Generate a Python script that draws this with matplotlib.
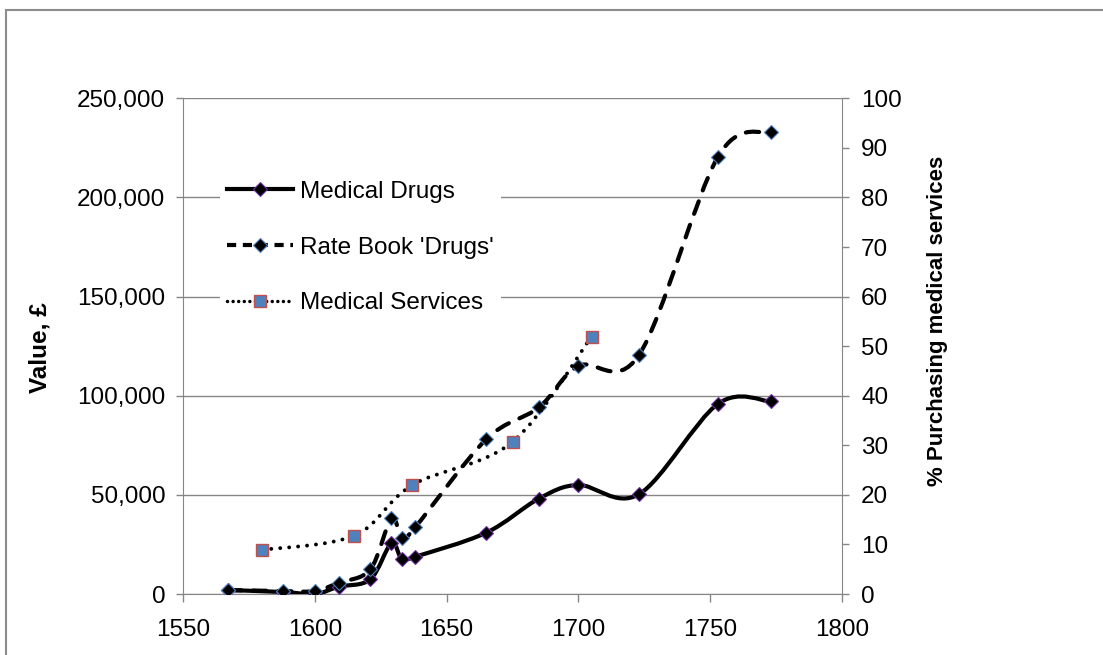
import numpy as np
import matplotlib
matplotlib.use("Agg")
import matplotlib.pyplot as plt
from matplotlib.path import Path
from matplotlib.patches import PathPatch, Rectangle
from matplotlib.lines import Line2D
from matplotlib.ticker import FuncFormatter

plt.rcParams["font.family"] = ["Liberation Sans", "DejaVu Sans"]

# data
years = [1567, 1588, 1600, 1609, 1621, 1629, 1633, 1638, 1665, 1685, 1700, 1723, 1753, 1773]
medical_drugs = [2000, 1000, 0, 3700, 7400, 25600, 17500, 18800, 30900, 48100, 55000, 50300, 95900, 97100]
rate_book_drugs = [2000, 1500, 1500, 5700, 12400, 38200, 28100, 33600, 78000, 94100, 115000, 120500, 220500, 233100]
service_years = [1580, 1615, 1637, 1675, 1705]
medical_services = [8.9, 11.8, 22.0, 30.7, 51.9]

GREY = "#868686"


def smooth_path(x, y):
    """Excel style smoothed line as a cubic bezier path through the points."""
    p = np.column_stack([x, y]).astype(float)
    n = len(p)
    verts = [p[0]]
    codes = [Path.MOVETO]
    for i in range(n - 1):
        prev = p[i - 1] if i > 0 else p[i]
        nxt = p[i + 2] if i + 2 < n else p[i + 1]
        c1 = p[i] + (p[i + 1] - prev) / 6
        c2 = p[i + 1] - (nxt - p[i]) / 6
        verts += [c1, c2, p[i + 1]]
        codes += [Path.CURVE4] * 3
    return Path(verts, codes)


fig = plt.figure(figsize=(11.03, 6.55), dpi=100)
ax = fig.add_axes([0.1662, 0.0931, 0.5969, 0.7568])
ax2 = ax.twinx()

# frame round the chart area (cropped at right and bottom)
fig.add_artist(Rectangle((6 / 1103, -0.1), 1.2, 1.1 - 10 / 655, transform=fig.transFigure,
                         fill=False, ec="#8c8c8c", lw=1.5))

drug_style = dict(ls="none", marker="D", ms=7.5, mfc="black", mec="#7030A0", mew=0.8)
rate_style = dict(ls="none", marker="D", ms=7.5, mfc="black", mec="#4F81BD", mew=0.8)
serv_style = dict(ls="none", marker="s", ms=9, mfc="#4F81BD", mec="#C0504D", mew=1)

p1 = PathPatch(smooth_path(years, medical_drugs), fill=False, ec="black", lw=3,
               capstyle="round", joinstyle="round", zorder=3)
ax.add_patch(p1)
p2 = PathPatch(smooth_path(years, rate_book_drugs), fill=False, ec="black", lw=3,
               ls=(0, (3.2, 2.8)), capstyle="round", joinstyle="round", zorder=3)
ax.add_patch(p2)
ax.plot(years, medical_drugs, zorder=4, **drug_style)
ax.plot(years, rate_book_drugs, zorder=4, **rate_style)

p3 = PathPatch(smooth_path(service_years, medical_services), fill=False, ec="black", lw=2.8,
               ls=(0, (0.01, 2.3)), capstyle="round", zorder=3)
ax2.add_patch(p3)
ax2.plot(service_years, medical_services, zorder=4, **serv_style)

ax.set_xlim(1550, 1800)
ax.set_xticks(range(1550, 1801, 50))
ax.set_ylim(0, 250000)
ax.set_yticks(range(0, 250001, 50000))
ax.yaxis.set_major_formatter(FuncFormatter(lambda v, _: f"{v:,.0f}"))
ax2.set_ylim(0, 100)
ax2.set_yticks(range(0, 101, 10))

ax.grid(axis="y", color=GREY, lw=1)
ax.set_axisbelow(True)

ax.tick_params(axis="y", colors=GREY, labelcolor="black", labelsize=17.5, length=5, width=1, pad=8)
ax.tick_params(axis="x", colors=GREY, labelcolor="black", labelsize=17.5, length=6, width=1, pad=12)
ax2.tick_params(axis="y", colors=GREY, labelcolor="black", labelsize=17.5, length=5, width=1, pad=9)

for s in ["top", "right"]:
    ax.spines[s].set_visible(False)
for s in ["top", "left", "bottom"]:
    ax2.spines[s].set_visible(False)
ax.spines["left"].set_color(GREY)
ax.spines["bottom"].set_color(GREY)
ax2.spines["right"].set_color(GREY)

ax.set_ylabel("Value, £", fontsize=17.5, fontweight="bold")
ax.yaxis.set_label_coords(-0.200, 0.497)
ax2.set_ylabel("% Purchasing medical services", fontsize=16, fontweight="bold")
ax2.yaxis.set_label_coords(1.130, 0.551)

handles = [
    Line2D([], [], color="black", lw=3, **{k: v for k, v in drug_style.items() if k != "ls"}),
    Line2D([], [], color="black", lw=3, ls=(0, (2.2, 1.6)), **{k: v for k, v in rate_style.items() if k != "ls"}),
    Line2D([], [], color="black", lw=2.5, ls=(0, (0.01, 1.6)), dash_capstyle="round",
           **{k: v for k, v in serv_style.items() if k != "ls"}),
]
labels = ["Medical Drugs", "Rate Book 'Drugs'", "Medical Services"]
leg = ax2.legend(handles, labels, loc="upper left", bbox_to_anchor=(0.056, 0.848),
                 fontsize=17.5, handlelength=2.7, handletextpad=0.3, labelspacing=1.38,
                 borderpad=0.3, borderaxespad=0, fancybox=False, framealpha=1)
leg.get_frame().set_edgecolor("none")
leg.get_frame().set_facecolor("white")

fig.savefig("out.png", dpi=100)
